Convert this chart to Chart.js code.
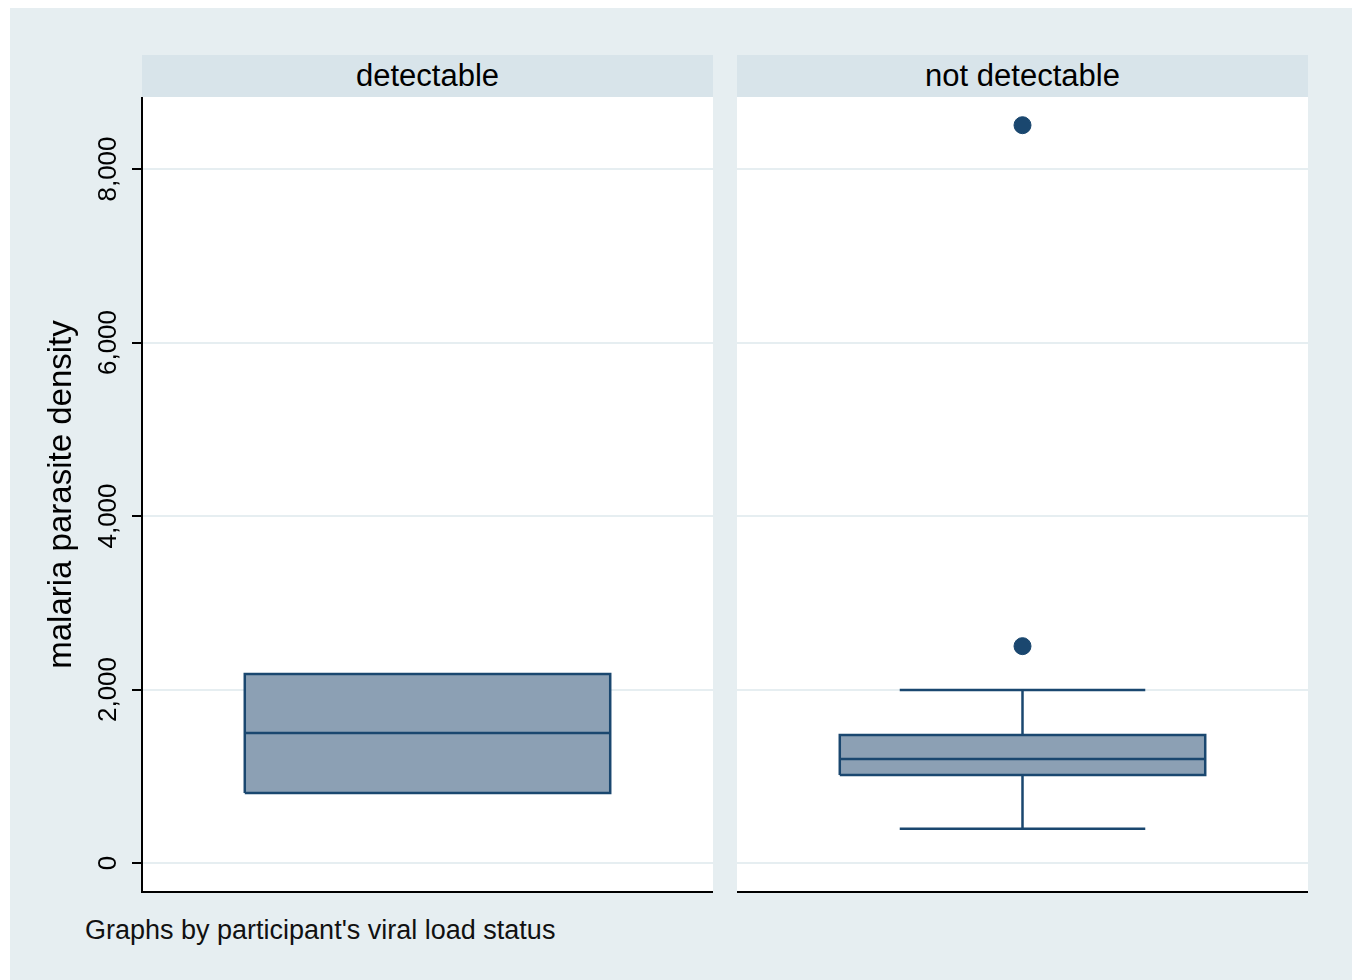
<!DOCTYPE html>
<html>
<head>
<meta charset="utf-8">
<script src="https://cdn.jsdelivr.net/npm/chart.js@4.4.1/dist/chart.umd.min.js"></script>
<style>
body { margin:0; background:#fff; width:1354px; height:980px; position:relative; overflow:hidden; font-family:'Liberation Sans', Arial, sans-serif; }
#frame { position:absolute; left:10px; top:8px; width:1342px; height:972px; background:#e6eef1; }
.strip { position:absolute; top:55px; height:42px; background:#d8e4ea; color:#000; font-size:31px; line-height:42px; text-align:center; }
canvas { position:absolute; top:97px; }
#note { position:absolute; left:85px; top:912px; font-size:27px; line-height:36px; color:#111; }
</style>
</head>
<body>
<div id="frame"></div>
<div class="strip" id="strip0" style="left:142px;width:571px;"></div>
<div class="strip" id="strip1" style="left:737px;width:571px;"></div>
<canvas id="panel0" width="713" height="800" style="left:0px;"></canvas>
<canvas id="panel1" width="571" height="800" style="left:737px;"></canvas>
<div id="note">Graphs by participant's viral load status</div>
<script>
// values
var groups = ['detectable', 'not detectable'];
var lowerWhisker = [807, 395];
var q1 = [807, 1014];
var median = [1500, 1200];
var q3 = [2180, 1475];
var upperWhisker = [2180, 1995];
var outliers = [[], [2500, 8505]];
var yTicks = [0, 2000, 4000, 6000, 8000];
var yMin = -334, yMax = 8830;

var navy = '#1a476f';
var boxFill = '#8ca0b4';
var gridColor = '#e6eef1';
var family = "'Liberation Sans', Arial, sans-serif";
var boxLeft = 0.18, boxRight = 0.82, capLeft = 0.285, capRight = 0.715, mid = 0.5;

function seg(pts, extra) {
    var d = { type: 'line', data: pts, borderColor: navy, borderWidth: 2.5, pointRadius: 0, fill: false };
    return Object.assign(d, extra || {});
}

function boxDatasets(i) {
    var sets = [
        seg([{x: boxLeft, y: median[i]}, {x: boxRight, y: median[i]}]),
        seg([{x: boxLeft, y: q1[i]}, {x: boxLeft, y: q3[i]}, {x: boxRight, y: q3[i]},
             {x: boxRight, y: q1[i]}, {x: boxLeft, y: q1[i]}])
    ];
    if (upperWhisker[i] > q3[i]) {
        sets.push(seg([{x: mid, y: q3[i]}, {x: mid, y: upperWhisker[i]}]));
        sets.push(seg([{x: capLeft, y: upperWhisker[i]}, {x: capRight, y: upperWhisker[i]}]));
    }
    if (lowerWhisker[i] < q1[i]) {
        sets.push(seg([{x: mid, y: q1[i]}, {x: mid, y: lowerWhisker[i]}]));
        sets.push(seg([{x: capLeft, y: lowerWhisker[i]}, {x: capRight, y: lowerWhisker[i]}]));
    }
    sets.push({
        type: 'line', showLine: false,
        data: outliers[i].map(function (v) { return {x: mid, y: v}; }),
        pointRadius: 8.5, pointBackgroundColor: navy, pointBorderColor: navy, pointBorderWidth: 1
    });
    // box body: fill between q3 and q1
    sets.push(seg([{x: boxLeft, y: q3[i]}, {x: boxRight, y: q3[i]}], {borderWidth: 0, fill: '+1', backgroundColor: boxFill}));
    sets.push(seg([{x: boxLeft, y: q1[i]}, {x: boxRight, y: q1[i]}], {borderWidth: 0}));
    return sets;
}

var plotBg = {
    id: 'plotBg',
    beforeDraw: function (c) {
        var a = c.chartArea;
        c.ctx.save();
        c.ctx.fillStyle = '#fff';
        c.ctx.fillRect(a.left, a.top, a.right - a.left, a.bottom - a.top);
        c.ctx.restore();
    }
};

function makeChart(i, withAxis) {
    document.getElementById('strip' + i).textContent = groups[i];
    return new Chart(document.getElementById('panel' + i), {
        type: 'line',
        data: { datasets: boxDatasets(i) },
        options: {
            responsive: false,
            animation: false,
            events: [],
            layout: { autoPadding: false, padding: { top: 0, right: 0, bottom: 5, left: 0 } },
            plugins: { legend: { display: false }, tooltip: { enabled: false } },
            scales: {
                x: {
                    type: 'linear', min: 0, max: 1,
                    ticks: { display: false },
                    grid: { display: false },
                    border: { display: true, color: '#000', width: 2 },
                    afterFit: function (s) { s.height = 0; s.paddingLeft = 0; s.paddingRight = 0; }
                },
                y: {
                    type: 'linear', min: yMin, max: yMax,
                    afterBuildTicks: function (s) { s.ticks = yTicks.map(function (v) { return {value: v}; }); },
                    ticks: {
                        display: withAxis, minRotation: 90, maxRotation: 90, crossAlign: 'center', padding: -9,
                        color: '#000', font: { size: 26, family: family },
                        callback: function (v) { return Number(v).toLocaleString('en-US'); }
                    },
                    grid: { color: gridColor, lineWidth: 2, drawTicks: withAxis, tickLength: 10, tickColor: '#000', tickWidth: 2 },
                    border: { display: withAxis, color: '#000', width: 2 },
                    title: {
                        display: withAxis, text: 'malaria parasite density', color: '#000',
                        font: { size: 33, family: family }, padding: { top: 42, bottom: 0 }
                    },
                    afterFit: function (s) { s.width = withAxis ? 142 : 0; s.paddingTop = 0; s.paddingBottom = 0; }
                }
            }
        },
        plugins: [plotBg]
    });
}

makeChart(0, true);
makeChart(1, false);
</script>
</body>
</html>
